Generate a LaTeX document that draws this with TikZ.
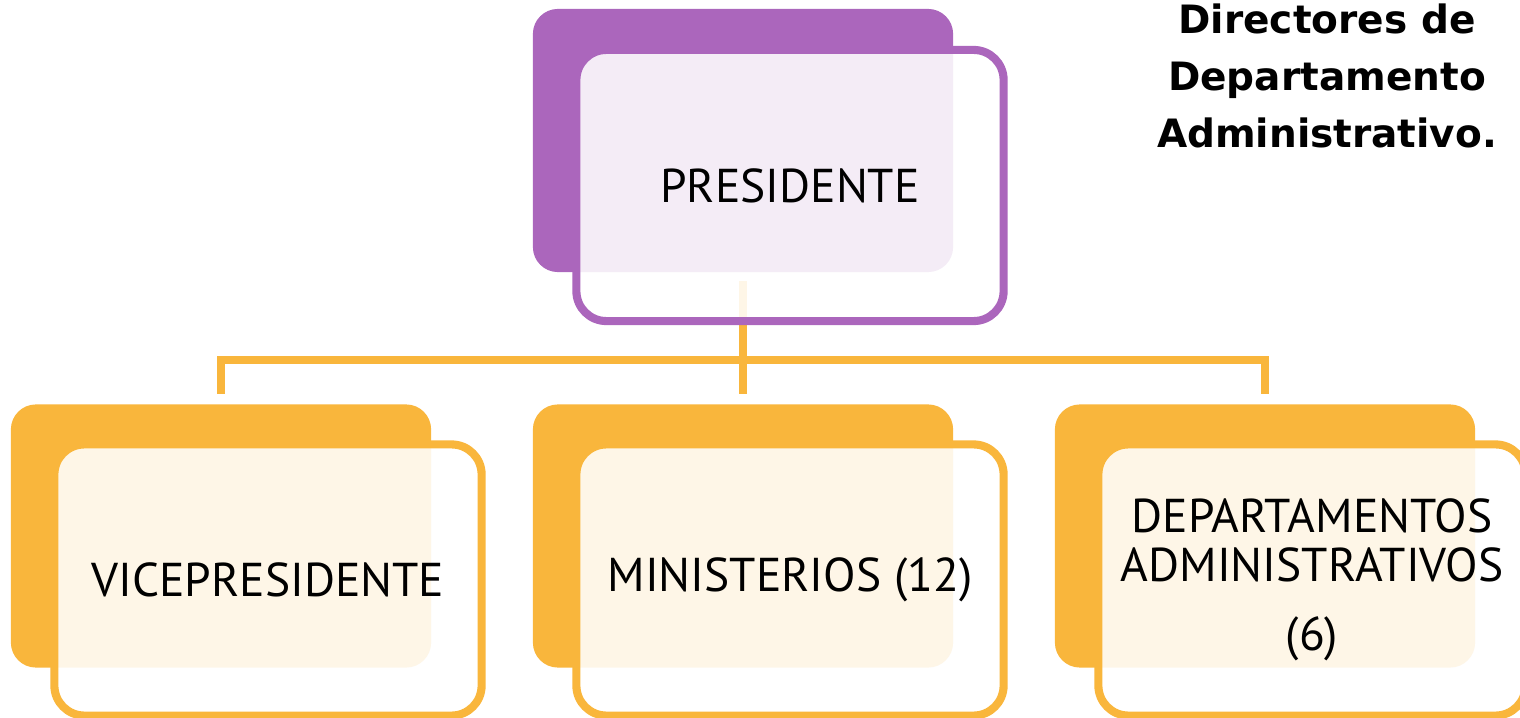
\documentclass[tikz,border=0pt]{standalone}
\usepackage{fontspec}
\setmainfont{PT Sans}
\newfontfamily\notefont{DejaVu Sans}
\usetikzlibrary{positioning,backgrounds}
\definecolor{orgpurple}{RGB}{171,102,188}
\definecolor{orgorange}{RGB}{249,182,60}
\tikzset{
  backbox/.style={fill=#1, rounded corners=0.25cm, minimum width=4.2cm, minimum height=2.63cm, inner sep=0pt},
  frontbox/.style={draw=#1, line width=2.3pt, fill=white, fill opacity=0.88, text opacity=1, rounded corners=0.3cm, minimum width=4.27cm, minimum height=2.71cm, inner sep=0pt, align=center, font=\fontsize{13.5}{13.7}\selectfont},
  conn/.style={draw=orgorange, line width=2.3pt},
}

\begin{document}
\begin{tikzpicture}[x=0.01cm, y=-0.01cm]
		%%%%% START %%%%%
		\useasboundingbox (0,0) rectangle (1520,718);
		
		% top level
		\node[backbox=orgpurple] (presback) at (743,140.5) {};
		\node[frontbox=orgpurple] (pres) at ([shift={(47,45)}]presback.center) {PRESIDENTE};
		
		% second level
		\node[backbox=orgorange] (viceback) at (221,536) {};
		\node[frontbox=orgorange] (vice) at ([shift={(47,44)}]viceback.center) {VICEPRESIDENTE};
		
		\node[backbox=orgorange] (minback) at (743,536) {};
		\node[frontbox=orgorange] (min) at ([shift={(47,44)}]minback.center) {MINISTERIOS (12)};
		
		\node[backbox=orgorange] (deptback) at (1265,536) {};
		\node[frontbox=orgorange] (dept) at ([shift={(47,44)}]deptback.center) {DEPARTAMENTOS\\ADMINISTRATIVOS\\[6pt](6)};
		
		% note
		\node[align=center, font=\notefont\bfseries\fontsize{11.1}{16.2}\selectfont] (note) at (1327,76) {Directores de\\Departamento\\Administrativo.};
		
		% connectors
		\begin{scope}[on background layer]
		\coordinate (hub) at (743,360);
		\draw[conn] ([yshift=-0.08cm]presback.south) -- (hub);
		\draw[conn] ([yshift=0.1cm]viceback.north) |- (hub) -| ([yshift=0.1cm]deptback.north);
		\draw[conn] (hub) -- ([yshift=0.1cm]minback.north);
		\end{scope}
		
		%%%%% END %%%%%
\end{tikzpicture}
\end{document}
